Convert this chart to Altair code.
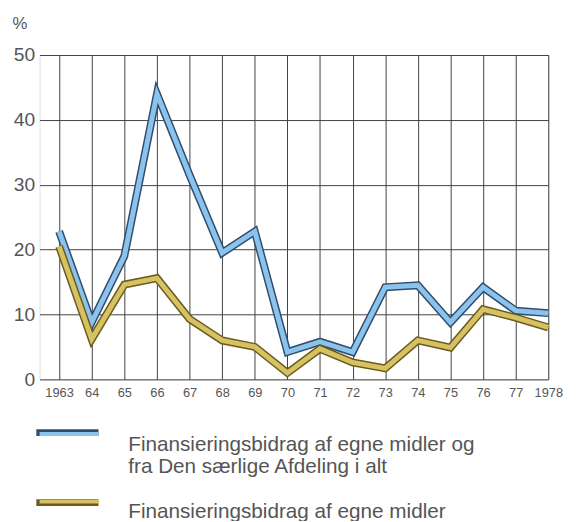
import altair as alt
import pandas as pd
import json

# ---- data ----
years = list(range(1963, 1979))
tick_labels = ["1963", "64", "65", "66", "67", "68", "69", "70", "71", "72",
               "73", "74", "75", "76", "77", "1978"]
total_vals = [22.8, 8.8, 19.0, 44.0, 31.5, 19.5, 22.8, 4.2, 5.8, 4.2,
              14.2, 14.5, 8.8, 14.2, 10.6, 10.2]
own_vals = [20.5, 6.2, 14.6, 15.6, 9.3, 6.0, 5.0, 1.0, 4.7, 2.6,
            1.7, 6.0, 4.9, 10.8, 9.5, 8.0]
series_keys = ["total", "own"]
edge_keys = ["total_edge", "own_edge"]
series_labels = [
    ["Finansieringsbidrag af egne midler og", "fra Den særlige Afdeling i alt"],
    ["Finansieringsbidrag af egne midler"],
]
y_ticks = [0, 10, 20, 30, 40, 50]

fill_colors = ["#8cc3ec", "#d6c262"]
edge_colors = ["#2f4d6d", "#6b5b1f"]
text_color = "#555555"
FONT = "Liberation Sans"

rows = []
for key, ekey, vals in zip(series_keys, edge_keys, [total_vals, own_vals]):
    for yr, v in zip(years, vals):
        rows.append({"year": yr, "value": v, "series": key, "series_b": ekey})
df = pd.DataFrame(rows)

tick_expr = json.dumps(tick_labels) + "[round(datum.value) - 1963]"
label_expr = ("indexof(datum.label, '" + series_keys[0] + "') == 0 ? "
              + json.dumps(series_labels[0], ensure_ascii=False)
              + " : " + json.dumps(series_labels[1], ensure_ascii=False))
# blank placeholder labels (same line count) for the outline legend underneath
blank_expr = ("indexof(datum.label, '" + series_keys[0] + "') == 0 ? "
              + json.dumps([" "] * len(series_labels[0]))
              + " : " + json.dumps([" "] * len(series_labels[1])))

x_enc = alt.X(
    "year:Q",
    scale=alt.Scale(domain=[1962.4, 1978], nice=False, zero=False),
    axis=alt.Axis(values=years, labelExpr=tick_expr, grid=True, gridColor="#404040",
                  gridWidth=1, ticks=False, domain=False, labelFontSize=13,
                  labelColor=text_color, labelFont=FONT, labelPadding=7,
                  labelFlush=False, labelOverlap=False, title=None),
)
y_enc = alt.Y(
    "value:Q",
    scale=alt.Scale(domain=[0, 50], nice=False),
    axis=alt.Axis(values=y_ticks, grid=True, gridColor="#404040", gridWidth=1,
                  ticks=False, domain=False, labelFontSize=19.5, labelColor=text_color,
                  labelFont=FONT, labelPadding=5, labelFlush=False,
                  title="%", titleAngle=0, titleAlign="left", titleBaseline="middle",
                  titleX=-28, titleY=-32, titleFontSize=17, titleFontWeight="normal",
                  titleColor=text_color, titleFont=FONT),
)

base = alt.Chart(df).encode(x=x_enc, y=y_enc)

# wide flat custom symbol: unit path scaled by sqrt(size)/2
swatch_path = "M-6,0H6"

edge_legend = alt.Legend(orient="none", legendX=17.75, legendY=372.5, title=None,
                         symbolType=swatch_path, symbolSize=10.5 * 10.5, symbolStrokeWidth=7,
                         labelExpr=blank_expr, labelFontSize=21, labelFont=FONT,
                         labelColor="transparent", labelBaseline="top", labelLimit=0,
                         labelOffset=49.5, rowPadding=13)
fill_legend = alt.Legend(orient="none", legendX=19.5, legendY=374, title=None,
                         symbolType=swatch_path, symbolSize=10 * 10, symbolStrokeWidth=4,
                         labelExpr=label_expr, labelFontSize=21, labelFont=FONT,
                         labelColor=text_color, labelBaseline="top", labelLimit=0,
                         labelOffset=49.5, rowPadding=14.5)

layers = []
for key in series_keys:
    edge = base.transform_filter(alt.datum.series == key).mark_line(
        strokeWidth=8, strokeJoin="miter").encode(
        stroke=alt.Stroke("series_b:N", scale=alt.Scale(domain=edge_keys, range=edge_colors),
                          legend=edge_legend))
    fill = base.transform_filter(alt.datum.series == key).mark_line(
        strokeWidth=5, strokeJoin="miter").encode(
        color=alt.Color("series:N", scale=alt.Scale(domain=series_keys, range=fill_colors),
                        legend=fill_legend))
    layers += [edge, fill]

chart = alt.layer(*layers).properties(
    width=516, height=329,
    autosize=alt.AutoSizeParams(type="none"),
    padding={"left": 32, "top": 44, "right": 20, "bottom": 140},
).configure_view(strokeWidth=0).configure(
    background="white",
    style={"guide-label": {"lineHeight": 22}},
)

chart.save("out.html", embed_options={"renderer": "svg", "actions": False})
